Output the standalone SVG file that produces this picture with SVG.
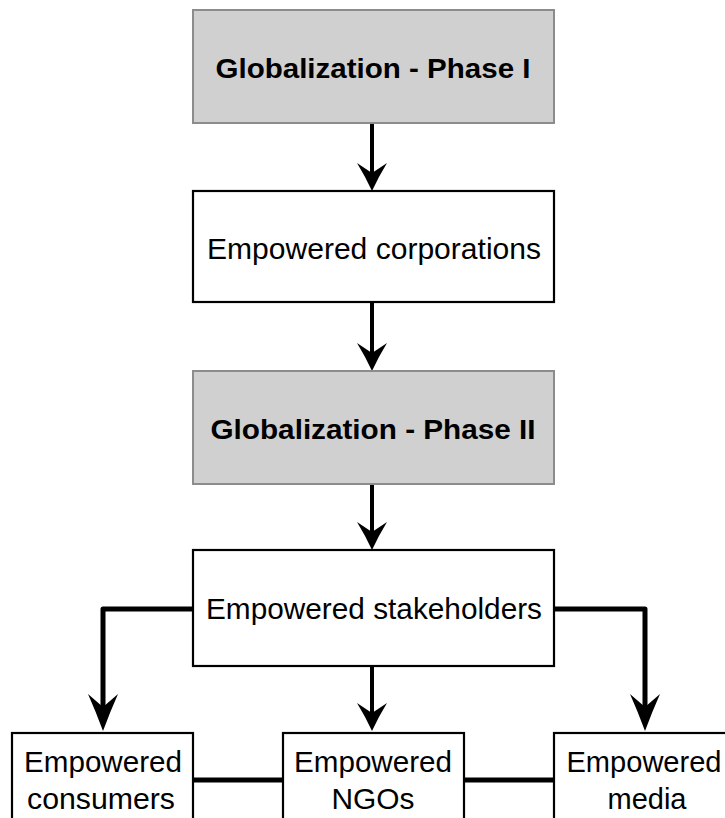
<svg xmlns="http://www.w3.org/2000/svg" width="725" height="818" viewBox="0 0 725 818">
  <defs>
    <style>
      .phase rect { fill: #d0d0d0; stroke: #8c8c8c; stroke-width: 2; }
      .plain rect { fill: #ffffff; stroke: #000000; stroke-width: 2.2; }
      text { font-family: "Liberation Sans", Arial, Helvetica, sans-serif; font-size: 29px; fill: #000; text-anchor: middle; }
      .phase text { font-weight: bold; font-size: 28px; }
      .link { fill: none; stroke: #000; stroke-linejoin: round; }
      .thin { stroke-width: 4; }
      .thick { stroke-width: 5; }
      .tip { fill: #000; }
    </style>
    <!-- downward stealth arrowheads, tip at origin -->
    <path id="tipShort" d="M0,0 Q-7,-15 -15,-28 L0,-18 L15,-28 Q7,-15 0,0 Z"/>
    <path id="tipLong" d="M0,0 Q-7,-19 -15,-37 L0,-24 L15,-37 Q7,-19 0,0 Z"/>
  </defs>

  <rect width="725" height="818" fill="#ffffff"/>

  <g id="connectors">
    <path class="link thin" d="M372,123 V176"/>
    <use class="tip" href="#tipShort" x="372" y="191"/>
    <path class="link thin" d="M372,302 V356"/>
    <use class="tip" href="#tipShort" x="372" y="371"/>
    <path class="link thin" d="M372,484 V535"/>
    <use class="tip" href="#tipShort" x="372" y="550"/>
    <path class="link thin" d="M372,666 V718"/>
    <use class="tip" href="#tipShort" x="372" y="731"/>
    <path class="link thick" d="M193,609 H103 V712"/>
    <use class="tip" href="#tipLong" x="103" y="731"/>
    <path class="link thick" d="M554,609 H645 V712"/>
    <use class="tip" href="#tipLong" x="645" y="731"/>
    <path class="link thick" d="M193,780 H283"/>
    <path class="link thick" d="M464,780 H554"/>
  </g>

  <g id="phase1" class="phase">
    <rect x="193" y="10" width="361" height="113"/>
    <text x="373" y="78" textLength="315" lengthAdjust="spacingAndGlyphs">Globalization - Phase I</text>
  </g>

  <g id="corporations" class="plain">
    <rect x="193" y="191" width="361" height="111"/>
    <text x="374" y="259" textLength="334" lengthAdjust="spacingAndGlyphs">Empowered corporations</text>
  </g>

  <g id="phase2" class="phase">
    <rect x="193" y="371" width="361" height="113"/>
    <text x="373" y="439" textLength="325" lengthAdjust="spacingAndGlyphs">Globalization - Phase II</text>
  </g>

  <g id="stakeholders" class="plain">
    <rect x="193" y="550" width="361" height="116"/>
    <text x="374" y="619" textLength="336" lengthAdjust="spacingAndGlyphs">Empowered stakeholders</text>
  </g>

  <g id="consumers" class="plain">
    <rect x="12" y="733" width="181" height="100"/>
    <text x="103" y="772" textLength="158" lengthAdjust="spacingAndGlyphs">Empowered</text>
    <text x="101" y="809" textLength="148" lengthAdjust="spacingAndGlyphs">consumers</text>
  </g>

  <g id="ngos" class="plain">
    <rect x="283" y="733" width="181" height="100"/>
    <text x="373" y="772" textLength="158" lengthAdjust="spacingAndGlyphs">Empowered</text>
    <text x="373" y="809" textLength="83" lengthAdjust="spacingAndGlyphs">NGOs</text>
  </g>

  <g id="media" class="plain">
    <rect x="554" y="733" width="181" height="100"/>
    <text x="644" y="772" textLength="155" lengthAdjust="spacingAndGlyphs">Empowered</text>
    <text x="647" y="809" textLength="79" lengthAdjust="spacingAndGlyphs">media</text>
  </g>
</svg>
